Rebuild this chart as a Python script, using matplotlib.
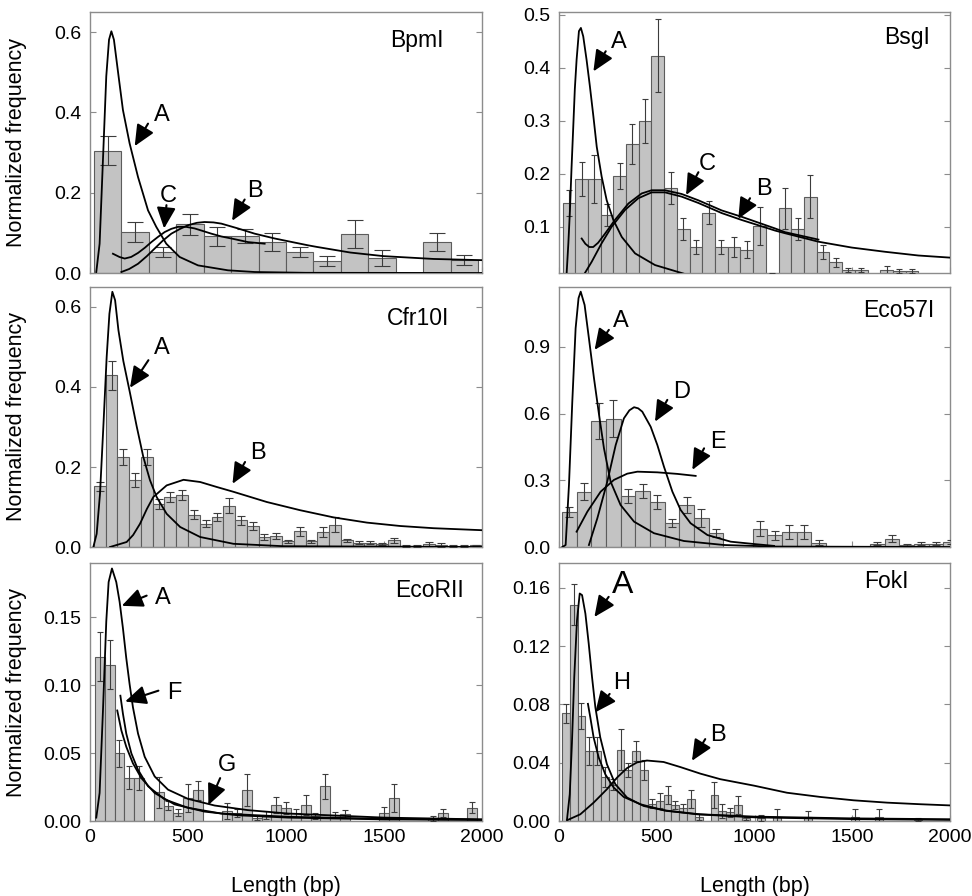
import numpy as np
import matplotlib.pyplot as plt
from matplotlib.ticker import FormatStrFormatter

plt.rcParams['font.family'] = ['Liberation Sans', 'DejaVu Sans']

# ---------- BpmI ----------
bpmi_start, bpmi_width = 20, 140
bpmi_freq = [0.305, 0.103, 0.053, 0.121, 0.091, 0.092, 0.077, 0.052, 0.030, 0.097, 0.037, 0.0, 0.077, 0.032]
bpmi_err = [0.035, 0.025, 0.012, 0.027, 0.023, 0.018, 0.022, 0.013, 0.013, 0.035, 0.020, 0.0, 0.023, 0.012]
bpmi_A_x = [32, 49, 66, 83, 97, 109, 122, 146, 168, 202, 245, 296, 338, 389, 457, 551, 704, 840, 1100, 2000]
bpmi_A_y = [0.0025, 0.073, 0.281, 0.49, 0.581, 0.602, 0.581, 0.489, 0.406, 0.323, 0.239, 0.156, 0.115, 0.073,
            0.040, 0.019, 0.0067, 0.0025, 0.0005, 0.0]
bpmi_C_x = [117, 150, 177, 210, 245, 280, 313, 347, 381, 415, 449, 490, 534, 580, 619, 670, 721, 806, 891]
bpmi_C_y = [0.048, 0.040, 0.036, 0.040, 0.050, 0.063, 0.077, 0.090, 0.102, 0.110, 0.115, 0.115, 0.111, 0.104,
            0.098, 0.091, 0.086, 0.077, 0.073]
bpmi_B_x = [160, 200, 245, 290, 330, 370, 415, 460, 500, 545, 585, 630, 670, 755, 840, 942, 1112, 1157, 1328,
            1498, 1753, 2000]
bpmi_B_y = [0.0025, 0.010, 0.023, 0.042, 0.061, 0.080, 0.098, 0.110, 0.119, 0.125, 0.127, 0.126, 0.123, 0.111,
            0.098, 0.086, 0.069, 0.065, 0.051, 0.042, 0.035, 0.032]

# ---------- BsgI ----------
bsgi_start, bsgi_width = 18, 65
bsgi_freq = [0.145, 0.190, 0.190, 0.123, 0.196, 0.256, 0.300, 0.423, 0.174, 0.096, 0.062, 0.127, 0.062, 0.062,
             0.057, 0.101, 0.008, 0.135, 0.096, 0.157, 0.053, 0.033, 0.019, 0.018, 0.0, 0.019, 0.017, 0.017]
bsgi_err = [0.024, 0.032, 0.045, 0.021, 0.024, 0.038, 0.041, 0.069, 0.030, 0.021, 0.014, 0.021, 0.014, 0.019,
            0.016, 0.036, 0.005, 0.039, 0.021, 0.041, 0.013, 0.008, 0.004, 0.004, 0.0, 0.008, 0.004, 0.004]
bsgi_A_x = [39, 48, 56, 64, 73, 81, 90, 102, 112, 124, 141, 158, 176, 193, 218, 244, 278, 321, 389, 491, 636]
bsgi_A_y = [0.012, 0.07, 0.131, 0.21, 0.289, 0.36, 0.415, 0.469, 0.475, 0.459, 0.415, 0.365, 0.308, 0.251,
            0.195, 0.150, 0.113, 0.081, 0.050, 0.028, 0.012]
bsgi_C_x = [116, 135, 155, 175, 200, 235, 286, 355, 423, 474, 542, 627, 713, 832, 934, 1105, 1156, 1327]
bsgi_C_y = [0.078, 0.068, 0.062, 0.062, 0.070, 0.087, 0.113, 0.144, 0.163, 0.169, 0.169, 0.162, 0.150, 0.131,
            0.119, 0.097, 0.090, 0.076]
bsgi_B_x = [131, 167, 218, 269, 338, 406, 474, 542, 627, 713, 832, 934, 1105, 1156, 1327, 1497, 1668, 1838, 2000]
bsgi_B_y = [0.012, 0.034, 0.069, 0.100, 0.132, 0.154, 0.165, 0.165, 0.157, 0.145, 0.126, 0.113, 0.093, 0.088,
            0.072, 0.061, 0.053, 0.046, 0.042]

# ---------- Cfr10I ----------
cfr_start, cfr_width = 20, 60
cfr_freq = [0.152, 0.429, 0.225, 0.167, 0.225, 0.107, 0.125, 0.131, 0.081, 0.058, 0.075, 0.103, 0.067, 0.053,
            0.025, 0.027, 0.014, 0.039, 0.014, 0.037, 0.056, 0.017, 0.011, 0.011, 0.007, 0.017, 0.003, 0.002,
            0.008, 0.006, 0.002, 0.002, 0.004]
cfr_err = [0.011, 0.037, 0.021, 0.018, 0.021, 0.012, 0.012, 0.0125, 0.011, 0.009, 0.011, 0.019, 0.011, 0.010,
           0.007, 0.007, 0.004, 0.011, 0.004, 0.012, 0.019, 0.004, 0.003, 0.003, 0.003, 0.006, 0.002, 0.002,
           0.005, 0.005, 0.002, 0.002, 0.002]
cfr_A_x = [17, 34, 51, 68, 85, 99, 114, 128, 145, 170, 204, 238, 272, 306, 340, 391, 460, 562, 732, 987, 2000]
cfr_A_y = [0.0, 0.033, 0.133, 0.300, 0.475, 0.583, 0.638, 0.617, 0.542, 0.465, 0.385, 0.302, 0.225, 0.167,
           0.125, 0.083, 0.050, 0.025, 0.008, 0.002, 0.0]
cfr_B_x = [102, 187, 220, 255, 290, 323, 391, 477, 562, 647, 732, 902, 1072, 1243, 1413, 1583, 1753, 2000]
cfr_B_y = [0.0, 0.0125, 0.030, 0.058, 0.095, 0.125, 0.154, 0.168, 0.1625, 0.150, 0.138, 0.1125, 0.092, 0.074,
           0.061, 0.0525, 0.047, 0.042]

# ---------- Eco57I ----------
eco57_start, eco57_width = 15, 75
eco57_freq = [0.158, 0.248, 0.566, 0.578, 0.228, 0.252, 0.203, 0.108, 0.190, 0.132, 0.063, 0.0, 0.0, 0.083,
              0.053, 0.068, 0.068, 0.020, 0.0, 0.0, 0.0, 0.015, 0.038, 0.008, 0.015, 0.015, 0.022]
eco57_err = [0.023, 0.038, 0.081, 0.084, 0.032, 0.030, 0.030, 0.020, 0.035, 0.040, 0.020, 0.0, 0.0, 0.035,
             0.020, 0.033, 0.033, 0.010, 0.0, 0.0, 0.0, 0.006, 0.015, 0.004, 0.006, 0.006, 0.008]
eco57_A_x = [17, 34, 51, 68, 85, 100, 111, 131, 153, 179, 205, 230, 264, 315, 384, 486, 639, 844, 1100, 2000]
eco57_A_y = [0.0, 0.009, 0.279, 0.654, 0.984, 1.12, 1.149, 1.089, 0.939, 0.759, 0.594, 0.444, 0.294, 0.189,
             0.114, 0.062, 0.027, 0.009, 0.002, 0.0]
eco57_D_x = [153, 196, 247, 290, 332, 360, 384, 405, 426, 469, 503, 537, 580, 622, 673, 759, 878, 1014, 1100]
eco57_D_y = [0.009, 0.129, 0.294, 0.459, 0.579, 0.615, 0.629, 0.624, 0.609, 0.541, 0.459, 0.361, 0.249, 0.167,
             0.107, 0.054, 0.024, 0.012, 0.005]
eco57_E_x = [90, 145, 213, 281, 349, 401, 503, 605, 699]
eco57_E_y = [0.069, 0.159, 0.249, 0.302, 0.330, 0.339, 0.336, 0.329, 0.320]

# ---------- EcoRII ----------
ecorii_start, ecorii_width = 25, 50
ecorii_freq = [0.121, 0.115, 0.050, 0.032, 0.0316, 0.0, 0.021, 0.0114, 0.006, 0.017, 0.0226, 0.0, 0.0, 0.0073,
               0.006, 0.0226, 0.0024, 0.0044, 0.0117, 0.0097, 0.006, 0.0117, 0.0036, 0.0255, 0.0044, 0.005, 0.0,
               0.0, 0.0, 0.006, 0.017, 0.0, 0.0, 0.0, 0.002, 0.006, 0.0, 0.0, 0.0097]
ecorii_err = [0.018, 0.018, 0.010, 0.0083, 0.009, 0.0, 0.0115, 0.0036, 0.0025, 0.0103, 0.007, 0.0, 0.0, 0.006,
              0.003, 0.0118, 0.002, 0.003, 0.0058, 0.0045, 0.003, 0.0075, 0.002, 0.0094, 0.002, 0.003, 0.0,
              0.0, 0.0, 0.004, 0.0102, 0.0, 0.0, 0.0, 0.002, 0.003, 0.0, 0.0, 0.004]
ecorii_A_x = [32, 49, 66, 83, 95, 112, 134, 151, 168, 185, 202, 219, 245, 279, 330, 398, 500, 636, 806, 1010,
              1500, 2000]
ecorii_A_y = [0.0025, 0.0207, 0.081, 0.147, 0.176, 0.186, 0.176, 0.1615, 0.142, 0.120, 0.1008, 0.0838, 0.0644,
              0.0473, 0.0328, 0.0231, 0.0163, 0.0114, 0.0080, 0.0055, 0.0025, 0.0012]
ecorii_F_x = [155, 168, 185, 211, 245, 296, 381, 500, 670, 1010, 1500, 2000]
ecorii_F_y = [0.0923, 0.079, 0.0644, 0.0498, 0.0377, 0.0256, 0.0159, 0.0097, 0.0055, 0.0031, 0.0016, 0.0010]
ecorii_G_x = [139, 160, 185, 219, 262, 330, 432, 585, 755, 1010, 1500, 2000]
ecorii_G_y = [0.0814, 0.0667, 0.0547, 0.0425, 0.0316, 0.0206, 0.0122, 0.0069, 0.0042, 0.0025, 0.0012, 0.0008]

# ---------- FokI ----------
foki_start, foki_width = 15, 40
foki_freq = [0.074, 0.1485, 0.072, 0.048, 0.048, 0.030, 0.025, 0.049, 0.035, 0.048, 0.035, 0.012, 0.014, 0.018,
             0.011, 0.009, 0.015, 0.003, 0.0, 0.018, 0.007, 0.006, 0.011, 0.002, 0.0, 0.002, 0.0, 0.003, 0.0,
             0.0, 0.0, 0.003, 0.0, 0.0, 0.0, 0.0, 0.0, 0.003, 0.0, 0.0, 0.003, 0.0, 0.0, 0.0, 0.0, 0.001]
foki_err = [0.0065, 0.014, 0.009, 0.0098, 0.0098, 0.007, 0.004, 0.0138, 0.005, 0.0066, 0.007, 0.003, 0.005,
            0.006, 0.003, 0.003, 0.006, 0.002, 0.0, 0.009, 0.005, 0.003, 0.006, 0.001, 0.0, 0.002, 0.0, 0.005,
            0.0, 0.0, 0.0, 0.004, 0.0, 0.0, 0.0, 0.0, 0.0, 0.005, 0.0, 0.0, 0.005, 0.0, 0.0, 0.0, 0.0, 0.001]
foki_A_x = [41, 55, 66, 78, 92, 106, 118, 135, 152, 169, 186, 211, 245, 288, 348, 433, 552, 723, 1000, 1500, 2000]
foki_A_y = [0.0011, 0.0184, 0.053, 0.0987, 0.1377, 0.1561, 0.155, 0.1423, 0.1217, 0.0987, 0.078, 0.0574, 0.039,
            0.0253, 0.0161, 0.0103, 0.0069, 0.0046, 0.003, 0.0018, 0.0012]
foki_H_x = [148, 160, 177, 203, 237, 280, 331, 416, 535, 706, 1000, 1500, 2000]
foki_H_y = [0.0804, 0.0712, 0.0574, 0.0436, 0.032, 0.0229, 0.0165, 0.0115, 0.0074, 0.0046, 0.0025, 0.0013, 0.0008]
foki_B_x = [41, 109, 177, 245, 297, 348, 399, 450, 535, 621, 723, 825, 996, 1166, 1337, 1507, 1678, 1850, 2000]
foki_B_y = [0.0005, 0.0046, 0.0126, 0.0218, 0.0298, 0.0363, 0.0402, 0.0415, 0.0405, 0.0370, 0.0325, 0.0287,
            0.0243, 0.0194, 0.0165, 0.0142, 0.0126, 0.0115, 0.0107]

length_ticks = [0, 500, 1000, 1500, 2000]


def draw_panel(ax, start, width, freq, err, curves, cap):
    freq = np.array(freq)
    err = np.array(err)
    centers = start + width * (np.arange(len(freq)) + 0.5)
    ax.bar(centers, freq, width=width, color='#c3c3c3', edgecolor='#5c5c5c', linewidth=0.8, zorder=2)
    m = err > 0
    ax.errorbar(centers[m], freq[m], yerr=err[m], fmt='none', ecolor='#3c3c3c', elinewidth=0.8,
                capsize=cap, capthick=0.8, zorder=3)
    for cx, cy in curves:
        ax.plot(cx, cy, color='black', lw=1.3, zorder=4)


def add_arrows(ax, arrows):
    for letter, tip, tail, lab, size in arrows:
        ax.annotate('', xy=tip, xytext=tail,
                    arrowprops=dict(arrowstyle='-|>,head_length=0.75,head_width=0.34', color='black',
                                    lw=1.5, shrinkA=0, shrinkB=0, mutation_scale=17), zorder=5)
        ax.text(lab[0], lab[1], letter, fontsize=size, ha='center', va='center', zorder=5)


fig = plt.figure(figsize=(9.72, 8.96), dpi=100)
cols = [(0.0926, 0.4033), (0.5751, 0.4023)]
rows = [(0.6953, 0.2913), (0.3895, 0.2902), (0.0837, 0.2879)]
axes = [[fig.add_axes([c[0], r[0], c[1], r[1]]) for c in cols] for r in rows]

# BpmI
ax = axes[0][0]
draw_panel(ax, bpmi_start, bpmi_width, bpmi_freq, bpmi_err,
           [(bpmi_A_x, bpmi_A_y), (bpmi_C_x, bpmi_C_y), (bpmi_B_x, bpmi_B_y)], 6)
ax.set_ylim(0, 0.65)
ax.set_yticks([0.0, 0.2, 0.4, 0.6])
ax.yaxis.set_major_formatter(FormatStrFormatter('%.1f'))
add_arrows(ax, [('A', (228, 0.316), (296, 0.372), (365, 0.393), 17),
                ('C', (378, 0.111), (390, 0.169), (400, 0.192), 17),
                ('B', (725, 0.130), (789, 0.183), (840, 0.204), 17)])
ax.text(0.834, 0.889, 'BpmI', transform=ax.transAxes, fontsize=16.5, ha='center', va='center')

# BsgI
ax = axes[0][1]
draw_panel(ax, bsgi_start, bsgi_width, bsgi_freq, bsgi_err,
           [(bsgi_A_x, bsgi_A_y), (bsgi_C_x, bsgi_C_y), (bsgi_B_x, bsgi_B_y)], 2.4)
ax.set_ylim(0.013, 0.505)
ax.set_yticks([0.1, 0.2, 0.3, 0.4, 0.5])
ax.yaxis.set_major_formatter(FormatStrFormatter('%.1f'))
add_arrows(ax, [('A', (176, 0.393), (239, 0.431), (306, 0.448), 17),
                ('C', (650, 0.160), (713, 0.203), (758, 0.218), 17),
                ('B', (917, 0.115), (977, 0.154), (1048, 0.172), 17)])
ax.text(0.889, 0.904, 'BsgI', transform=ax.transAxes, fontsize=16.5, ha='center', va='center')

# Cfr10I
ax = axes[1][0]
draw_panel(ax, cfr_start, cfr_width, cfr_freq, cfr_err,
           [(cfr_A_x, cfr_A_y), (cfr_B_x, cfr_B_y)], 2.7)
ax.set_ylim(0, 0.65)
ax.set_yticks([0.0, 0.2, 0.4, 0.6])
ax.yaxis.set_major_formatter(FormatStrFormatter('%.1f'))
add_arrows(ax, [('A', (204, 0.398), (298, 0.467), (364, 0.498), 17),
                ('B', (727, 0.158), (791, 0.2125), (857, 0.235), 17)])
ax.text(0.837, 0.88, 'Cfr10I', transform=ax.transAxes, fontsize=16.5, ha='center', va='center')

# Eco57I
ax = axes[1][1]
draw_panel(ax, eco57_start, eco57_width, eco57_freq, eco57_err,
           [(eco57_A_x, eco57_A_y), (eco57_D_x, eco57_D_y), (eco57_E_x, eco57_E_y)], 3)
ax.set_ylim(0, 1.17)
ax.set_yticks([0.0, 0.3, 0.6, 0.9])
ax.yaxis.set_major_formatter(FormatStrFormatter('%.1f'))
add_arrows(ax, [('A', (182, 0.887), (255, 0.977), (318, 1.018), 17),
                ('D', (491, 0.564), (554, 0.662), (629, 0.696), 17),
                ('E', (682, 0.347), (742, 0.444), (813, 0.471), 17)])
ax.text(0.868, 0.91, 'Eco57I', transform=ax.transAxes, fontsize=16.5, ha='center', va='center')

# EcoRII
ax = axes[2][0]
draw_panel(ax, ecorii_start, ecorii_width, ecorii_freq, ecorii_err,
           [(ecorii_A_x, ecorii_A_y), (ecorii_F_x, ecorii_F_y), (ecorii_G_x, ecorii_G_y)], 2.5)
ax.set_ylim(0, 0.19)
ax.set_yticks([0.0, 0.05, 0.10, 0.15])
ax.yaxis.set_major_formatter(FormatStrFormatter('%.2f'))
add_arrows(ax, [('A', (162, 0.1585), (289, 0.166), (374, 0.164), 17),
                ('F', (179, 0.088), (349, 0.096), (432, 0.0943), 17),
                ('G', (604, 0.0117), (664, 0.0316), (700, 0.041), 17)])
ax.text(0.867, 0.895, 'EcoRII', transform=ax.transAxes, fontsize=16.5, ha='center', va='center')

# FokI
ax = axes[2][1]
draw_panel(ax, foki_start, foki_width, foki_freq, foki_err,
           [(foki_A_x, foki_A_y), (foki_H_x, foki_H_y), (foki_B_x, foki_B_y)], 2.3)
ax.set_ylim(0, 0.177)
ax.set_yticks([0.0, 0.04, 0.08, 0.12, 0.16])
ax.yaxis.set_major_formatter(FormatStrFormatter('%.2f'))
add_arrows(ax, [('A', (181, 0.140), (254, 0.1538), (324, 0.162), 23),
                ('H', (186, 0.0746), (259, 0.0872), (321, 0.0945), 17),
                ('B', (680, 0.0413), (748, 0.0562), (811, 0.0588), 17)])
ax.text(0.838, 0.927, 'FokI', transform=ax.transAxes, fontsize=16.5, ha='center', va='center')

for r, row in enumerate(axes):
    for c, ax in enumerate(row):
        ax.set_xlim(0, 2000)
        ax.set_xticks(length_ticks)
        for s in ax.spines.values():
            s.set_color('#8c8c8c')
            s.set_linewidth(1.0)
        ax.tick_params(axis='both', direction='in', length=4, color='#8c8c8c', labelsize=14,
                       right=True, pad=6)
        if r < 2:
            ax.tick_params(axis='x', labelbottom=False)
        else:
            ax.set_xlabel('Length (bp)', fontsize=15.5)
            ax.xaxis.set_label_coords(0.5, -0.215)
        if c == 0:
            ax.set_ylabel('Normalized frequency', fontsize=15.5)
            ax.yaxis.set_label_coords(-0.16, 0.5)

fig.savefig('out.png', dpi=100)
